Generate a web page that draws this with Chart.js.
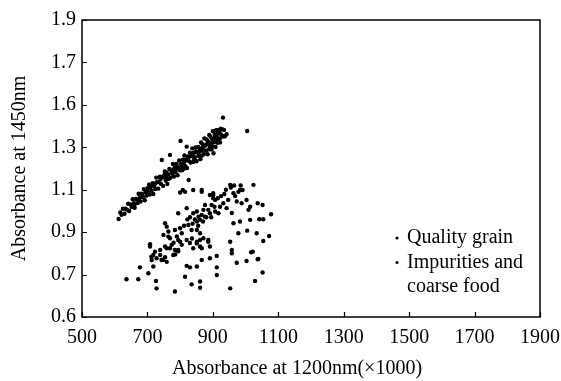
<!DOCTYPE html>
<html>
<head>
<meta charset="utf-8">
<script src="https://cdn.jsdelivr.net/npm/chart.js@4/dist/chart.umd.min.js"></script>
<style>
  html, body { margin: 0; padding: 0; background: #fff; }
  #wrap { width: 561px; height: 381px; position: relative; }
</style>
</head>
<body>
<div id="wrap"><canvas id="scatter"></canvas></div>
<script>
// --- DATA ---
const xTickLabels = ['500', '700', '900', '1100', '1300', '1500', '1700', '1900'];
const yTickLabels = ['0.6', '0.7', '0.9', '1.1', '1.3', '1.6', '1.7', '1.9'];
const xTitle = 'Absorbance at 1200nm(\u00d71000)';
const yTitle = 'Absorbance at 1450nm';
const seriesNames = ['Quality grain', 'Impurities and coarse food'];
const legendLines = [['Quality grain'], ['Impurities and', 'coarse food']];

const qualityGrain = [
  [612,0.962],[617,0.993],[621,0.982],[625,1.010],[630,0.987],[633,1.011],[638,1.005],[641,1.034],
  [644,1.000],[649,1.030],[652,1.018],[655,1.055],[659,1.036],[661,1.015],[665,1.056],[670,1.037],
  [673,1.081],[676,1.061],[679,1.044],[682,1.081],[686,1.064],[689,1.103],[692,1.050],[694,1.088],
  [697,1.072],[700,1.107],[702,1.089],[705,1.125],[707,1.077],[709,1.109],[713,1.095],[716,1.131],
  [718,1.080],[721,1.117],[724,1.103],[727,1.157],[729,1.136],[733,1.105],[735,1.136],[738,1.161],
  [741,1.128],[744,1.240],[745,1.160],[748,1.118],[751,1.158],[753,1.186],[756,1.143],[759,1.180],
  [761,1.127],[764,1.172],[767,1.198],[769,1.264],[770,1.156],[773,1.189],[776,1.175],[778,1.221],
  [781,1.162],[784,1.205],[786,1.184],[789,1.221],[792,1.168],[794,1.206],[797,1.238],[799,1.192],
  [801,1.330],[803,1.222],[806,1.192],[808,1.241],[811,1.220],[813,1.261],[816,1.211],[818,1.242],
  [820,1.303],[821,1.202],[824,1.257],[826,1.146],[827,1.235],[830,1.274],[832,1.228],[835,1.259],
  [837,1.295],[840,1.231],[842,1.274],[845,1.253],[847,1.299],[850,1.234],[852,1.275],[855,1.301],
  [857,1.260],[860,1.294],[862,1.244],[864,1.323],[867,1.285],[869,1.314],[872,1.267],[874,1.342],
  [876,1.307],[879,1.284],[881,1.337],[884,1.267],[886,1.326],[889,1.358],[891,1.304],[893,1.350],
  [896,1.290],[898,1.337],[900,1.376],[902,1.272],[904,1.325],[906,1.362],[908,1.301],[910,1.381],
  [912,1.350],[914,1.321],[916,1.381],[918,1.341],[920,1.370],[922,1.323],[924,1.388],[926,1.359],
  [928,1.385],[931,1.351],[934,1.382],[937,1.352],[942,1.362],[931,1.440],[1005,1.377],
  [660,1.028],[672,1.050],[684,1.072],[698,1.095],[711,1.118],[725,1.130],[740,1.150],[752,1.170],
  [765,1.150],[779,1.195],[790,1.200],[804,1.205],[815,1.235],[828,1.255],[838,1.270],[848,1.280],
  [858,1.278],[870,1.300],[882,1.315],[894,1.318],[905,1.345],[915,1.365],[921,1.340],[899,1.305],
  [909,1.330],[888,1.290],[866,1.260],[843,1.245],[812,1.200],[757,1.160]
];

const impurities = [
  [636,0.678],[672,0.678],[728,0.635],[784,0.620],[835,0.654],[861,0.638],[953,0.635],[1029,0.670],
  [1052,0.710],[677,0.734],[703,0.706],[726,0.670],[815,0.690],[912,0.698],[912,0.734],[973,0.756],
  [1003,0.764],[1037,0.772],[1022,0.808],[958,0.816],[953,0.855],[978,0.895],[1005,0.907],[1034,0.895],
  [1054,0.858],[1072,0.882],[1078,0.984],[1054,0.961],[1042,0.961],[1014,0.958],[983,0.950],[963,0.942],
  [1037,1.036],[1052,1.028],[1024,1.123],[953,1.123],[1009,1.005],[1014,1.020],[988,1.036],[973,1.045],
  [963,1.083],[978,1.090],[991,1.099],[968,1.070],[947,1.052],[932,1.036],[922,1.020],[907,0.997],
  [891,0.989],[876,0.973],[861,0.958],[851,0.950],[866,0.981],[886,1.005],[901,1.060],[901,1.083],
  [866,1.090],[840,1.099],[815,1.090],[800,1.087],[820,1.013],[794,0.989],[754,0.942],[759,0.926],
  [784,0.910],[800,0.918],[805,0.895],[825,0.934],[835,0.910],[851,0.910],[861,0.895],[871,0.871],
  [886,0.855],[891,0.832],[861,0.832],[851,0.855],[830,0.849],[820,0.863],[805,0.840],[794,0.816],
  [769,0.871],[774,0.840],[754,0.832],[739,0.816],[723,0.808],[718,0.792],[728,0.777],[743,0.769],
  [754,0.782],[708,0.832],[713,0.769],[718,0.738],[779,0.792],[820,0.741],[830,0.734],[851,0.738],
  [866,0.769],[891,0.777],[912,0.788],[840,0.989],[851,0.997],[856,0.973],[871,1.005],[876,1.028],
  [896,1.028],[917,0.989],[942,1.013],[958,0.990],[749,0.887],[764,0.903],[794,0.863],[784,0.816],
  [739,0.792],[759,0.760],[866,1.099],[891,1.075],[907,1.052],[983,1.099],[1003,1.052],[808,1.099],
  [712,0.784],[748,0.770],[785,0.795],[769,0.824],[794,0.810],[708,0.843],[759,0.824],[764,0.879],
  [800,0.855],[836,0.870],[840,0.824],[851,0.847],[861,0.863],[886,0.863],[866,0.824],[861,0.667],
  [958,0.800],[1017,0.805],[1039,0.774],[780,0.850],[790,0.880],[812,0.930],[822,0.960],[830,0.970],
  [838,0.940],[845,0.960],[855,0.930],[870,0.950],[880,0.970],[895,0.970],[905,1.020],[915,1.060],
  [925,1.070],[935,1.080],[940,1.100],[955,1.110],[965,1.120],[985,1.120],[901,1.075]
];

const FONT = '"Liberation Serif", "Times New Roman", serif';

// frame, inward ticks, x title and the legend
const framePlugin = {
  id: 'frame',
  afterDraw(chart) {
    const { ctx, chartArea: a, scales } = chart;
    ctx.save();
    ctx.strokeStyle = '#000';
    ctx.lineWidth = 1.5;
    ctx.strokeRect(a.left, a.top, a.right - a.left, a.bottom - a.top);

    ctx.lineWidth = 1.2;
    ctx.beginPath();
    scales.x.ticks.forEach(t => {
      const px = Math.round(scales.x.getPixelForValue(t.value)) + 0.5;
      ctx.moveTo(px, a.bottom);
      ctx.lineTo(px, a.bottom - 5);
    });
    scales.y.ticks.forEach(t => {
      const py = Math.round(scales.y.getPixelForValue(t.value)) + 0.5;
      ctx.moveTo(a.left, py);
      ctx.lineTo(a.left + 5, py);
    });
    ctx.stroke();

    ctx.fillStyle = '#000';
    ctx.font = '20px ' + FONT;
    ctx.textBaseline = 'middle';

    // x axis title, sits a little left of the plot centre in the original
    ctx.textAlign = 'center';
    ctx.fillText(xTitle, (a.left + a.right) / 2 - 14, 369);

    // legend
    ctx.textAlign = 'left';
    let y = 238;
    legendLines.forEach(lines => {
      ctx.beginPath();
      ctx.arc(397, y, 1.6, 0, Math.PI * 2);
      ctx.fill();
      lines.forEach(line => {
        ctx.fillText(line, 407, y);
        y += 24.5;
      });
    });
    ctx.restore();
  }
};

function toPoints(arr) {
  return arr.map(p => ({ x: p[0], y: p[1] }));
}

new Chart(document.getElementById('scatter'), {
  type: 'scatter',
  data: {
    datasets: [
      {
        label: seriesNames[0],
        data: toPoints(qualityGrain),
        backgroundColor: '#000',
        borderColor: '#000',
        pointRadius: 2.2,
        borderWidth: 0
      },
      {
        label: seriesNames[1],
        data: toPoints(impurities),
        backgroundColor: '#000',
        borderColor: '#000',
        pointRadius: 2.2,
        borderWidth: 0
      }
    ]
  },
  options: {
    responsive: true,
    maintainAspectRatio: false,
    animation: false,
    layout: { padding: { left: 0, right: 21, top: 20, bottom: 0 } },
    plugins: {
      legend: { display: false },
      tooltip: { enabled: false }
    },
    scales: {
      x: {
        type: 'linear',
        min: 500,
        max: 1900,
        afterFit: s => { s.height = 64; s.paddingRight = 0; },
        grid: { display: false, drawTicks: false },
        border: { display: false },
        ticks: {
          stepSize: 200,
          color: '#000',
          padding: 9,
          font: { family: FONT, size: 20 },
          maxRotation: 0,
          callback: (v, i) => xTickLabels[i]
        },
        title: { display: false }
      },
      y: {
        type: 'linear',
        min: 0.5,
        max: 1.9,
        afterFit: s => { s.width = 82; },
        grid: { display: false, drawTicks: false },
        border: { display: false },
        ticks: {
          stepSize: 0.2,
          color: '#000',
          padding: 6,
          font: { family: FONT, size: 20 },
          callback: (v, i) => yTickLabels[i]
        },
        title: {
          display: true,
          text: yTitle,
          color: '#000',
          font: { family: FONT, size: 20 },
          padding: { top: 8, bottom: 0 }
        }
      }
    }
  },
  plugins: [framePlugin]
});
</script>
</body>
</html>
